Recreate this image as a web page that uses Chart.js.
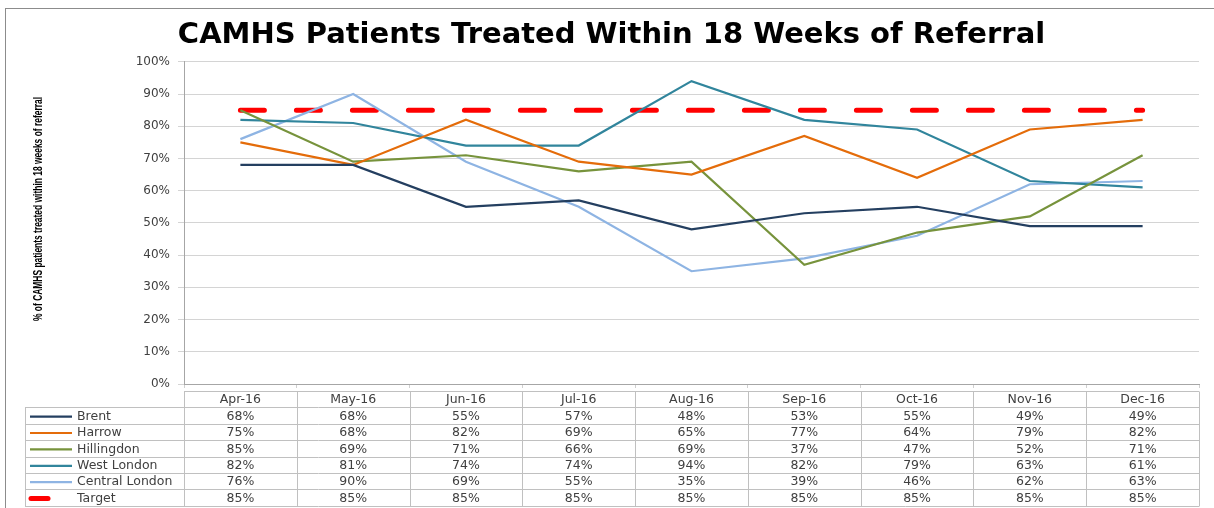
<!DOCTYPE html>
<html>
<head>
<meta charset="utf-8">
<script src="https://cdn.jsdelivr.net/npm/chart.js@4.4.1/dist/chart.umd.min.js"></script>
<style>
  html, body { margin: 0; padding: 0; background: #fff; }
  #wrap { width: 1214px; height: 508px; }
</style>
</head>
<body>
<div id="wrap"><canvas id="chart" width="1214" height="508"></canvas></div>
<script>
// chart data
var months = ['Apr-16', 'May-16', 'Jun-16', 'Jul-16', 'Aug-16', 'Sep-16', 'Oct-16', 'Nov-16', 'Dec-16'];
var brent = [68, 68, 55, 57, 48, 53, 55, 49, 49];
var harrow = [75, 68, 82, 69, 65, 77, 64, 79, 82];
var hillingdon = [85, 69, 71, 66, 69, 37, 47, 52, 71];
var westLondon = [82, 81, 74, 74, 94, 82, 79, 63, 61];
var centralLondon = [76, 90, 69, 55, 35, 39, 46, 62, 63];
var target = [85, 85, 85, 85, 85, 85, 85, 85, 85];
var yTicks = [0, 10, 20, 30, 40, 50, 60, 70, 80, 90, 100];
var yTitle = '% of CAMHS patients treated within 18 weeks of referral';

var tableFont = '12.5px "DejaVu Sans"';
var textColour = '#404040';
var tableLine = '#c0c0c0';

function line(label, data, colour) {
    return {
        label: label,
        data: data,
        borderColor: colour,
        backgroundColor: colour,
        borderWidth: 2.2,
        pointRadius: 0,
        tension: 0,
        fill: false
    };
}

var targetSet = line('Target', target, '#ff0000');
targetSet.borderWidth = 5;
targetSet.borderDash = [24, 32];
targetSet.borderCapStyle = 'round';

var datasets = [
    line('Brent', brent, '#243f60'),
    line('Harrow', harrow, '#e46c0a'),
    line('Hillingdon', hillingdon, '#77933c'),
    line('West London', westLondon, '#31859c'),
    line('Central London', centralLondon, '#8eb4e3'),
    targetSet
];

// frame round the whole chart, plus the squeezed y axis title
var framePlugin = {
    id: 'frame',
    beforeDraw: function (chart) {
        var ctx = chart.ctx;
        ctx.save();
        ctx.fillStyle = '#fff';
        ctx.fillRect(0, 0, chart.width, chart.height);
        ctx.strokeStyle = '#8c8c8c';
        ctx.lineWidth = 1;
        ctx.strokeRect(5.5, 8.5, chart.width, chart.height);
        ctx.restore();
    },
    afterDraw: function (chart) {
        var ctx = chart.ctx;
        ctx.save();
        ctx.translate(39, 209);
        ctx.rotate(-Math.PI / 2);
        ctx.font = 'bold 12px "Liberation Sans"';
        ctx.fillStyle = '#000';
        ctx.textAlign = 'center';
        ctx.textBaseline = 'middle';
        ctx.fillText(yTitle, 0, 0, 224);
        ctx.restore();
    }
};

// data table under the plot, legend keys in the first column
var tablePlugin = {
    id: 'dataTable',
    afterDraw: function (chart) {
        var ctx = chart.ctx;
        var x = chart.scales.x;
        var area = chart.chartArea;
        var half = (area.right - area.left) / months.length / 2;
        var top = 391;
        var rowH = 16.4;
        var keyLeft = 25;
        var rows = chart.data.datasets;

        ctx.save();
        ctx.strokeStyle = tableLine;
        ctx.lineWidth = 1;

        // horizontal lines
        for (var r = 0; r <= rows.length + 1; r++) {
            var y = Math.round(top + r * rowH) + 0.5;
            ctx.beginPath();
            ctx.moveTo(r === 0 ? area.left : keyLeft, y);
            ctx.lineTo(area.right, y);
            ctx.stroke();
        }
        // vertical lines
        var bottom = Math.round(top + (rows.length + 1) * rowH) + 0.5;
        ctx.beginPath();
        ctx.moveTo(keyLeft + 0.5, Math.round(top + rowH) + 0.5);
        ctx.lineTo(keyLeft + 0.5, bottom);
        for (var c = 0; c <= months.length; c++) {
            var vx = Math.round(area.left + c * half * 2) + 0.5;
            ctx.moveTo(vx, top + 0.5);
            ctx.lineTo(vx, bottom);
        }
        ctx.stroke();

        ctx.font = tableFont;
        ctx.fillStyle = textColour;
        ctx.textBaseline = 'middle';
        ctx.textAlign = 'center';
        months.forEach(function (m, i) {
            ctx.fillText(m, x.getPixelForValue(i), top + rowH / 2 + 1);
        });

        rows.forEach(function (ds, r) {
            var cy = top + (r + 1) * rowH + rowH / 2 + 1;
            // legend key
            ctx.save();
            ctx.strokeStyle = ds.borderColor;
            ctx.lineWidth = ds.borderWidth;
            ctx.lineCap = ds.borderCapStyle || 'butt';
            ctx.beginPath();
            if (ds.borderDash) {
                ctx.moveTo(31, cy);
                ctx.lineTo(48, cy);
            } else {
                ctx.moveTo(30, cy);
                ctx.lineTo(72, cy);
            }
            ctx.stroke();
            ctx.restore();

            ctx.textAlign = 'left';
            ctx.fillText(ds.label, 77, cy);
            ctx.textAlign = 'center';
            ds.data.forEach(function (v, i) {
                ctx.fillText(Math.round(v) + '%', x.getPixelForValue(i), cy);
            });
        });
        ctx.restore();
    }
};

var ctx = document.getElementById('chart').getContext('2d');
new Chart(ctx, {
    type: 'line',
    data: { labels: months, datasets: datasets },
    plugins: [framePlugin, tablePlugin],
    options: {
        responsive: false,
        animation: false,
        layout: { padding: { top: 0, right: 15, bottom: 120, left: 24 } },
        plugins: {
            legend: { display: false },
            tooltip: { enabled: false },
            title: {
                display: true,
                text: 'CAMHS Patients Treated Within 18 Weeks of Referral',
                color: '#000',
                font: { family: 'DejaVu Sans', size: 29, weight: 'bold' },
                padding: { top: 18, bottom: 9 }
            }
        },
        scales: {
            x: {
                offset: true,
                grid: { display: true, drawOnChartArea: false, drawTicks: true, tickLength: 4, offset: true, color: '#d0d0d0' },
                border: { display: true, color: '#a6a6a6' },
                ticks: { display: false },
                afterFit: function (scale) { scale.height = 4; }
            },
            y: {
                min: 0,
                max: 100,
                afterBuildTicks: function (scale) {
                    scale.ticks = yTicks.map(function (v) { return { value: v }; });
                },
                ticks: {
                    color: textColour,
                    font: { family: 'DejaVu Sans', size: 12 },
                    padding: 8,
                    callback: function (v) { return v + '%'; }
                },
                grid: { color: '#d4d4d4', tickLength: 6 },
                border: { display: true, color: '#a6a6a6' },
                afterFit: function (scale) { scale.width = 160; }
            }
        }
    }
});
</script>
</body>
</html>
